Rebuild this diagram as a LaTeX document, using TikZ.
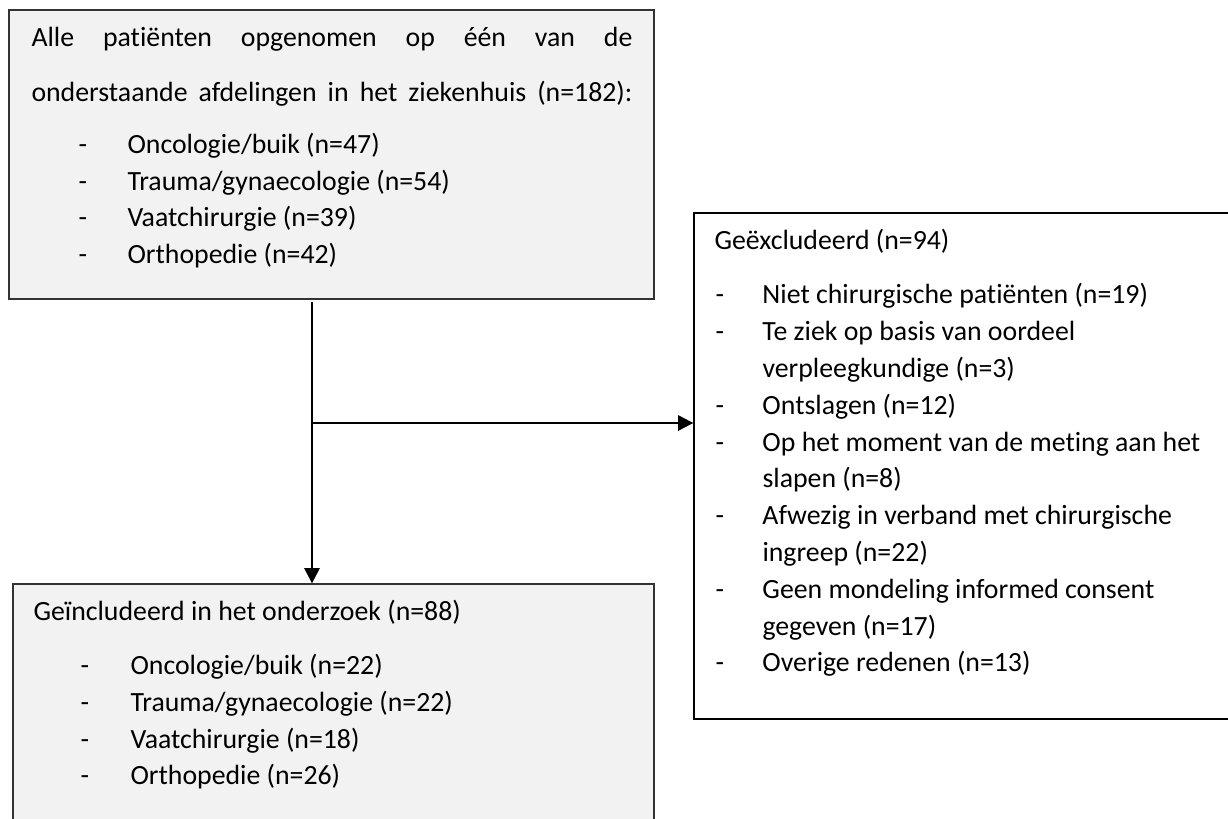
\documentclass[tikz,border=0pt]{standalone}
\usepackage{fontspec}
\setmainfont{Carlito}[Ligatures=CommonOff]
\usetikzlibrary{arrows.meta,calc}
\tikzstyle{greybox}=[rectangle,draw=black!80,line width=0.5pt,fill=black!5,inner sep=0pt]
\tikzstyle{whitebox}=[rectangle,draw=black,line width=0.5pt,fill=white,inner sep=0pt]
\tikzstyle{txt}=[anchor=base west,inner sep=0pt,font=\fontsize{11}{13.2}\selectfont]
\tikzstyle{edge}=[draw,line width=0.9pt,-{Triangle[length=6pt,width=6pt]}]

\begin{document}
\begin{tikzpicture}[x=0.3957pt,y=-0.3957pt]

   \useasboundingbox (0,0) rectangle (1228,819);
   \clip (0,0) rectangle (1228,819);

   % the three boxes
   \node[greybox,minimum width=255.2pt,minimum height=114.4pt] (alle) at (331.5,154.5) {};
   \node[whitebox,minimum width=216.1pt,minimum height=200.2pt] (excl) at (967,466) {};
   \node[greybox,minimum width=253.6pt,minimum height=101.3pt] (incl) at (333.5,712) {};

   % all patients
   \node[txt] (alleA) at (31,47) {\makebox[237.8pt][s]{Alle patiënten opgenomen op één van de}};
   \node[txt] (alleB) at (31,101.7) {\makebox[237.8pt][s]{onderstaande afdelingen in het ziekenhuis (n=182):}};
   \foreach \y/\name/\label in {154/alle1/{Oncologie/buik (n=47)},190.7/alle2/{Trauma/gynaecologie (n=54)},
                                227/alle3/{Vaatchirurgie (n=39)},263.3/alle4/{Orthopedie (n=42)}}
       \node[txt] (\name) at (78,\y) {\makebox[19.4pt][l]{-}\label};

   % excluded
   \node[txt] (exclHead) at (714,250) {Geëxcludeerd (n=94)};
   \foreach \y/\name/\d/\label in {304/excl1/-/{Niet chirurgische patiënten (n=19)},
                                   340.8/excl2/-/{Te ziek op basis van oordeel},
                                   377.5/excl3/{}/{verpleegkundige (n=3)},
                                   414.3/excl4/-/{Ontslagen (n=12)},
                                   451.1/excl5/-/{Op het moment van de meting aan het},
                                   487.9/excl6/{}/{slapen (n=8)},
                                   524.6/excl7/-/{Afwezig in verband met chirurgische},
                                   561.4/excl8/{}/{ingreep (n=22)},
                                   598.2/excl9/-/{Geen mondeling informed consent},
                                   635.0/excl10/{}/{gegeven (n=17)},
                                   671.7/excl11/-/{Overige redenen (n=13)}}
       \node[txt] (\name) at (715,\y) {\makebox[18.6pt][l]{\d}\label};

   % included
   \node[txt] (inclHead) at (33,620.5) {Geïncludeerd in het onderzoek (n=88)};
   \foreach \y/\name/\label in {674.5/incl1/{Oncologie/buik (n=22)},711.5/incl2/{Trauma/gynaecologie (n=22)},
                                748/incl3/{Vaatchirurgie (n=18)},784/incl4/{Orthopedie (n=26)}}
       \node[txt] (\name) at (80,\y) {\makebox[19.8pt][l]{-}\label};

   % arrows
   \coordinate (split) at (312,423);
   \draw[edge,shorten <=1pt] (split |- alle.south) -- (split |- incl.north);
   \draw[edge] (split) -- (split -| excl.west);

\end{tikzpicture}
\end{document}
